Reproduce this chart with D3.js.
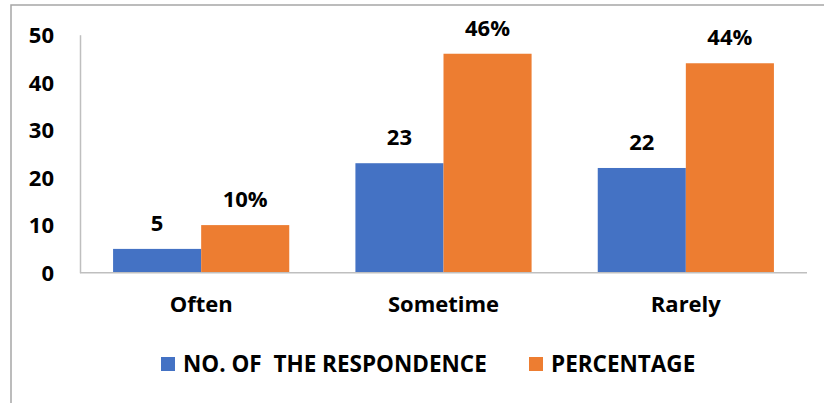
<!DOCTYPE html>
<html>
<head>
<meta charset="utf-8">
<script src="https://cdn.jsdelivr.net/npm/d3@7"></script>
<style>
  body { margin: 0; background: #fff; }
  svg text { font-family: "Open Sans", sans-serif; font-weight: bold; fill: #000; white-space: pre; }
</style>
</head>
<body>
<svg id="chart"></svg>
<script>
var categories = ["Often", "Sometime", "Rarely"];
var seriesNames = ["NO. OF  THE RESPONDENCE", "PERCENTAGE"];
var respondents = [5, 23, 22];
var percentage = [10, 46, 44];
var yTicks = [0, 10, 20, 30, 40, 50];
var colors = ["#4472C4", "#ED7D31"];

var width = 824, height = 403;
var svg = d3.select("#chart").attr("width", width).attr("height", height);

// outer chart border (cut off on right and bottom like the picture)
svg.append("rect")
  .attr("x", 11).attr("y", 5)
  .attr("width", 830).attr("height", 420)
  .style("fill", "none").style("stroke", "#a6a6a6").style("stroke-width", 1.5);

var x0 = d3.scaleBand().domain(categories).range([80, 807]).paddingInner(0.273).paddingOuter(0.1365);
var x1 = d3.scaleBand().domain([0, 1]).range([0, x0.bandwidth()]);
var y = d3.scaleLinear().domain([0, 50]).range([272.7, 34.7]);

var rows = categories.map(function(c, i) {
  return { cat: c, vals: [respondents[i], percentage[i]] };
});

var groups = svg.selectAll(".grp").data(rows).enter().append("g")
  .attr("class", "grp")
  .attr("transform", function(d) { return "translate(" + x0(d.cat) + ",0)"; });

groups.selectAll("rect").data(function(d) { return d.vals; }).enter().append("rect")
  .attr("x", function(d, i) { return x1(i); })
  .attr("y", function(d) { return y(d); })
  .attr("width", x1.bandwidth())
  .attr("height", function(d) { return y(0) - y(d); })
  .style("fill", function(d, i) { return colors[i]; });

groups.selectAll(".lbl").data(function(d) { return d.vals; }).enter().append("text")
  .attr("class", "lbl")
  .attr("x", function(d, i) { return x1(i) + x1.bandwidth() / 2; })
  .attr("y", function(d) { return y(d) - 18; })
  .attr("text-anchor", "middle")
  .style("font-size", "22px")
  .text(function(d, i) { return i == 1 ? d + "%" : d; });

// axes
var yAxis = d3.axisLeft(y).tickValues(yTicks).tickSize(0).tickPadding(26);
var gy = svg.append("g").attr("transform", "translate(80,0)").call(yAxis);
gy.select(".domain").style("stroke", "#bfbfbf").style("stroke-width", 1.5);
gy.selectAll("text").style("font-size", "22px").style("font-family", "Open Sans").attr("dy", "0.35em");

var xAxis = d3.axisBottom(x0).tickSize(0).tickPadding(24);
var gx = svg.append("g").attr("transform", "translate(0," + y(0) + ")").call(xAxis);
gx.select(".domain").attr("d", "M80,0H807").style("stroke", "#bfbfbf").style("stroke-width", 1.5);
gx.selectAll("text").style("font-size", "22px").style("font-family", "Open Sans");

// legend
var legendX = [161, 529];
var lg = svg.selectAll(".leg").data(seriesNames).enter().append("g")
  .attr("class", "leg")
  .attr("transform", function(d, i) { return "translate(" + legendX[i] + ",357)"; });
lg.append("rect").attr("width", 14).attr("height", 14)
  .style("fill", function(d, i) { return colors[i]; });
lg.append("text").attr("x", 22).attr("y", 7).attr("dy", "0.35em")
  .style("font-size", "22.5px")
  .text(function(d) { return d; });
</script>
</body>
</html>
